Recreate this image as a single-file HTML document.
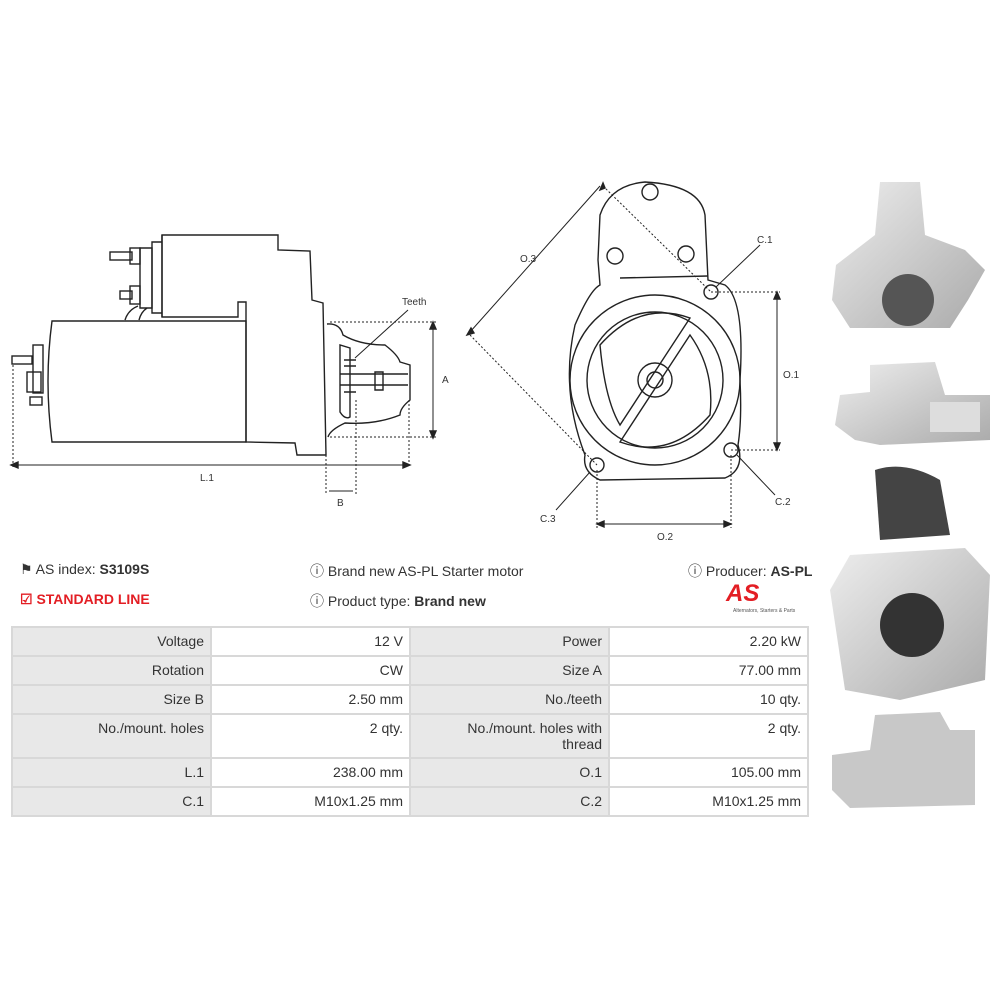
<!DOCTYPE html>
<html><head><meta charset="utf-8"><style>
body{margin:0;width:1000px;height:1000px;background:#fff;font-family:"Liberation Sans",sans-serif;position:relative;overflow:hidden}
.t{position:absolute;font-size:14px;color:#333;white-space:nowrap}
table{position:absolute;left:11px;top:626px;border-collapse:collapse;font-size:14px;color:#333}
td{border:2px solid #d8d8d8;padding:5px 6px 0 6px;text-align:right;vertical-align:top;width:185px;height:22px}
td.l{background:#e8e8e8}
</style></head><body>
<svg width="1000" height="1000" style="position:absolute;left:0;top:0" fill="none" stroke="#222" stroke-width="1.4">
<!-- side view -->
<path d="M52,321 L246,321 L246,442 L52,442 Q44,381 52,321Z" fill="#fff"/>
<path d="M162,235 L278,235 L278,250 L310,251 L312,300 L323,303 L326,455 L297,455 L295,443 L246,442 L246,302 L238,302 L238,317 L162,317 Z"/>
<path d="M162,235 L162,317 M152,242 L162,242 L162,313 L152,313 Z"/>
<path d="M140,248 L152,248 L152,308 L140,308 Z"/>
<rect x="110" y="252" width="22" height="8"/><rect x="130" y="248" width="10" height="16"/>
<rect x="120" y="291" width="12" height="8"/><rect x="130" y="286" width="10" height="18"/>
<path d="M125,320 Q128,310 138,306 M139,320 Q141,312 147,308"/>
<rect x="33" y="345" width="10" height="48"/><rect x="27" y="372" width="14" height="20"/>
<rect x="12" y="356" width="20" height="8"/><rect x="30" y="397" width="12" height="8"/>
<path d="M327,324 Q340,323 343,335 Q360,345 385,345 Q398,355 400,362 L410,365 L410,400 Q400,408 400,415 Q375,425 345,423 Q330,430 328,437"/>
<path d="M340,345 L340,412 Q345,420 350,417 L350,348 Z"/>
<path d="M340,374 L408,374 M340,385 L408,385 M375,372 L383,372 L383,390 L375,390 Z"/>
<path d="M344,360 L356,360 M344,366 L356,366 M344,392 L356,392"/>
<g stroke-dasharray="2,2" stroke-width="1">
<path d="M330,322 L436,322 M330,437 L436,437 M13,365 L13,467 M409,400 L409,467 M326,455 L326,495 M356,400 L356,495"/>
</g>
<path d="M433,325 L433,435 M14,465 L407,465 M329,491 L353,491 M355,358 L408,310" stroke-width="1"/>
<path d="M433,322 l-3,7 h6z M433,438 l-3,-7 h6z M11,465 l7,-3 v6z M410,465 l-7,-3 v6z" fill="#222"/>
<!-- front view -->
<path d="M600,215 Q610,185 645,182 Q700,185 705,215 L708,280 L725,285 Q745,300 740,380 Q742,420 738,445 Q745,470 725,478 L600,480 Q582,472 585,455 Q560,390 575,325 Q590,290 600,285 L598,260 Z" fill="#fff"/>
<path d="M620,278 L708,276"/>
<circle cx="655" cy="380" r="85"/><circle cx="655" cy="380" r="68"/>
<circle cx="655" cy="380" r="17"/><circle cx="655" cy="380" r="8"/>
<path d="M600,345 Q640,300 690,318 L620,425 Q605,400 600,345Z M710,415 Q670,460 620,442 L690,335 Q715,370 710,415Z"/>
<circle cx="650" cy="192" r="8"/><circle cx="615" cy="256" r="8"/><circle cx="686" cy="254" r="8"/>
<circle cx="711" cy="292" r="7"/><circle cx="597" cy="465" r="7"/><circle cx="731" cy="450" r="7"/>
<g stroke-dasharray="2,2" stroke-width="1"><path d="M711,292 L780,292 M731,450 L780,450 M597,470 L597,528 M731,455 L731,528 M603,186 L711,292 M470,335 L597,465"/></g>
<path d="M777,296 L777,446 M600,524 L728,524 M470,332 L600,186 M716,287 L760,245 M737,455 L775,495 M590,472 L556,510" stroke-width="1"/>
<path d="M777,292 l-3,7 h6z M777,450 l-3,-7 h6z M597,524 l7,-3 v6z M731,524 l-7,-3 v6z M603,183 l-3,7 5,-2z M467,335 l7,-2 -3,-5z" fill="#222"/>
<g fill="#333" stroke="none" font-size="10" font-family="Liberation Sans">
<text x="402" y="305">Teeth</text><text x="442" y="383">A</text><text x="200" y="481">L.1</text><text x="337" y="506">B</text>
<text x="757" y="243">C.1</text><text x="783" y="378">O.1</text><text x="775" y="505">C.2</text><text x="657" y="540">O.2</text><text x="540" y="522">C.3</text><text x="520" y="262">O.3</text>
</g>
<!-- photos -->
<defs><linearGradient id="g" x1="0" y1="0" x2="1" y2="1"><stop offset="0" stop-color="#eee"/><stop offset="1" stop-color="#aaa"/></linearGradient></defs>
<g stroke="none">
<path d="M880,182 L920,182 L925,235 L965,250 L985,270 L968,300 L950,328 L850,328 L832,300 L836,265 L875,235Z" fill="url(#g)"/>
<circle cx="908" cy="300" r="26" fill="#555"/>
<path d="M870,365 L935,362 L945,395 L990,395 L990,440 L880,445 L855,440 L835,425 L840,395 L870,392Z" fill="url(#g)"/>
<rect x="930" y="402" width="50" height="30" fill="#ddd"/>
<path d="M875,470 Q905,460 940,480 L950,535 L880,540 Z" fill="#444"/>
<path d="M850,555 L965,548 L990,575 L985,680 L900,700 L845,690 L830,590Z" fill="url(#g)"/>
<circle cx="912" cy="625" r="32" fill="#333"/>
<path d="M875,715 L940,712 L950,730 L975,730 L975,805 L850,808 L832,790 L832,755 L870,750Z" fill="#c8c8c8"/>
</g>
</svg>
<div class="t" style="left:20px;top:561px">&#9873; AS index: <b>S3109S</b></div>
<div class="t" style="left:20px;top:591px;color:#e31e24;font-weight:bold">&#9745; STANDARD LINE</div>
<div class="t" style="left:310px;top:561px">&#9432; Brand new AS-PL Starter motor</div>
<div class="t" style="left:310px;top:591px">&#9432; Product type: <b>Brand new</b></div>
<div class="t" style="left:688px;top:561px">&#9432; Producer: <b>AS-PL</b></div>
<div class="t" style="left:726px;top:580px;color:#e31e24;font-weight:bold;font-style:italic;font-size:24px">AS</div>
<div class="t" style="left:733px;top:608px;font-size:5px;color:#555">Alternators, Starters &amp; Parts</div>
<table>
<tr><td class="l">Voltage</td><td>12 V</td><td class="l">Power</td><td>2.20 kW</td></tr>
<tr><td class="l">Rotation</td><td>CW</td><td class="l">Size A</td><td>77.00 mm</td></tr>
<tr><td class="l">Size B</td><td>2.50 mm</td><td class="l">No./teeth</td><td>10 qty.</td></tr>
<tr><td class="l" style="height:37px">No./mount. holes</td><td>2 qty.</td><td class="l">No./mount. holes with<br>thread</td><td>2 qty.</td></tr>
<tr><td class="l">L.1</td><td>238.00 mm</td><td class="l">O.1</td><td>105.00 mm</td></tr>
<tr><td class="l">C.1</td><td>M10x1.25 mm</td><td class="l">C.2</td><td>M10x1.25 mm</td></tr>
</table>
</body></html>
